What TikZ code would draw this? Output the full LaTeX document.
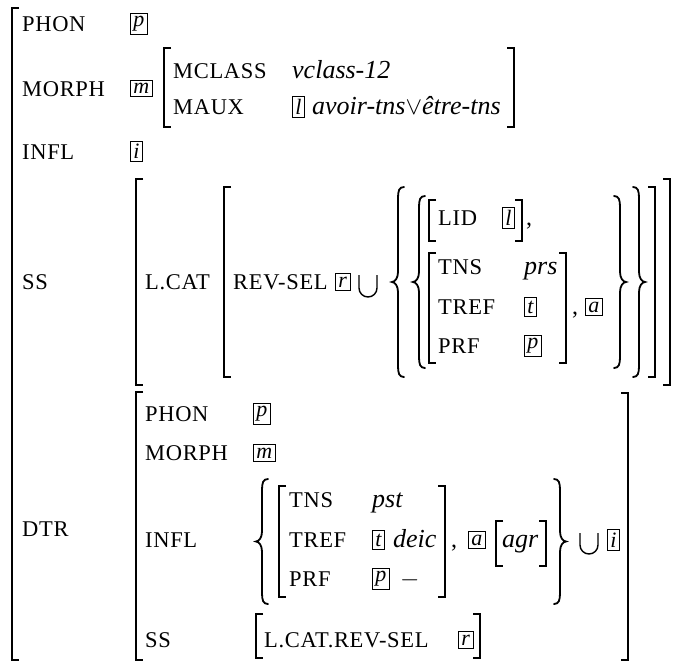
\documentclass[tikz,border=0pt]{standalone}
\usepackage{fontspec}
\setmainfont{Liberation Serif}
\newfontfamily\labfont[LetterSpace=3]{Liberation Serif}
\usepackage{tikz}

% curly braces: x, top, bottom
\newcommand{\openbr}[3]{%
  \pgfmathsetmacro\bmid{(#2+#3)/2}
  \draw[brace] (#1+12,#2) .. controls (#1+7,#2) and (#1+6,#2+4) .. (#1+6,#2+11)
    -- (#1+6,\bmid-10) .. controls (#1+6,\bmid-4) and (#1+3,\bmid) .. (#1,\bmid)
    .. controls (#1+3,\bmid) and (#1+6,\bmid+4) .. (#1+6,\bmid+10)
    -- (#1+6,#3-11) .. controls (#1+6,#3-4) and (#1+7,#3) .. (#1+12,#3);}
\newcommand{\closebr}[3]{%
  \pgfmathsetmacro\bmid{(#2+#3)/2}
  \draw[brace] (#1,#2) .. controls (#1+5,#2) and (#1+6,#2+4) .. (#1+6,#2+11)
    -- (#1+6,\bmid-10) .. controls (#1+6,\bmid-4) and (#1+9,\bmid) .. (#1+12,\bmid)
    .. controls (#1+9,\bmid) and (#1+6,\bmid+4) .. (#1+6,\bmid+10)
    -- (#1+6,#3-11) .. controls (#1+6,#3-4) and (#1+5,#3) .. (#1,#3);}
% set union: x, top, bottom
\newcommand{\unionsym}[3]{%
  \draw[cupline] (#1,#2) -- (#1,#3-9) arc[start angle=180, end angle=0, radius=9] -- (#1+18,#2);}

\begin{document}
\begin{tikzpicture}[
    x=1pt, y=-1pt,
    lab/.style={
        anchor=base west,
        inner sep=0pt,
        font=\labfont\fontsize{22.5}{25}\selectfont
    },
    val/.style={
        anchor=base west,
        inner sep=0pt,
        font=\fontsize{26}{30}\selectfont\itshape
    },
    punct/.style={anchor=base west, inner sep=0pt, font=\fontsize{24}{26}\selectfont},
    tagbox/.style={
        draw,
        line width=0.7pt,
        anchor=west,
        inner sep=3pt,
        font=\fontsize{22}{24}\selectfont\itshape
    },
    brace/.style={line width=1.8pt, line cap=round},
    cupline/.style={line width=1.4pt},
    brk/.style={line width=1.3pt}
]
\useasboundingbox (0,0) rectangle (678,662);

% Outer matrix
\draw[brk] (19,8) -- (12,8) -- (12,660) -- (19,660);

% Top level features
\node[lab] (phon) at (22,31) {PHON};
\node[tagbox] (tagp) at (130,23.5) {p};
\node[lab] (morph) at (22,96) {MORPH};
\node[tagbox] (tagm) at (130,88.5) {m};
\node[lab] (infl) at (22,159) {INFL};
\node[tagbox] (tagi) at (130,151.5) {i};

% Morph value
\draw[brk] (171,48) -- (164,48) -- (164,127) -- (171,127);
\node[lab] (mclass) at (173,78) {MCLASS};
\node[val] (vclass) at (292,78) {vclass-12};
\node[lab] (maux) at (173,114) {MAUX};
\node[tagbox] (tagl) at (292,107) {l};
\node[val] (auxval) at (312,114) {avoir-tns$\vee$être-tns};
\draw[brk] (507,48) -- (514,48) -- (514,127) -- (507,127);

% SS value
\node[lab] (ss) at (22,289) {SS};
\draw[brk] (143,179) -- (136,179) -- (136,385) -- (143,385);
\node[lab] (lcat) at (145,289) {L.CAT};
\draw[brk] (231,187) -- (224,187) -- (224,377) -- (231,377);
\node[lab] (revsel) at (233,289) {REV-SEL};
\node[tagbox] (tagr) at (335,282) {r};
\unionsym{359}{275}{297}
\openbr{392}{187}{377}
\openbr{413}{196}{368}

% LID matrix
\draw[brk] (436,200) -- (429,200) -- (429,241) -- (436,241);
\node[lab] (lid) at (438,225) {LID};
\node[tagbox] (taglid) at (502,218) {l};
\draw[brk] (515,200) -- (522,200) -- (522,241) -- (515,241);
\node[punct] (comma1) at (526,225) {,};

% TNS matrix
\draw[brk] (436,253) -- (429,253) -- (429,363) -- (436,363);
\node[lab] (tns) at (438,274) {TNS};
\node[val] (prs) at (524,274) {prs};
\node[lab] (tref) at (438,314) {TREF};
\node[tagbox] (tagt) at (524,307) {t};
\node[lab] (prf) at (438,353) {PRF};
\node[tagbox] (tagpp) at (524,346) {p};
\draw[brk] (559,253) -- (566,253) -- (566,363) -- (559,363);
\node[punct] (comma2) at (572,314) {,};
\node[tagbox] (taga) at (585,307) {a};

% closing delimiters
\closebr{614}{196}{368}
\closebr{633}{187}{377}
\draw[brk] (648,187) -- (655,187) -- (655,377) -- (648,377);
\draw[brk] (663,179) -- (670,179) -- (670,385) -- (663,385);

% DTR value
\node[lab] (dtr) at (22,536) {DTR};
\draw[brk] (143,392) -- (136,392) -- (136,660) -- (143,660);
\node[lab] (dphon) at (145,421) {PHON};
\node[tagbox] (dtagp) at (253,414) {p};
\node[lab] (dmorph) at (145,460) {MORPH};
\node[tagbox] (dtagm) at (253,453) {m};
\node[lab] (dinfl) at (145,547) {INFL};
\openbr{256}{479}{604}

% DTR INFL set
\draw[brk] (286,486) -- (279,486) -- (279,597) -- (286,597);
\node[lab] (dtns) at (289,507) {TNS};
\node[val] (pst) at (372,507) {pst};
\node[lab] (dtref) at (289,547) {TREF};
\node[tagbox] (dtagt) at (372,540) {t};
\node[val] (deic) at (393,547) {deic};
\node[lab] (dprf) at (289,586) {PRF};
\node[tagbox] (dtagpp) at (372,579) {p};
\node[punct] (minus) at (400,586) {$-$};
\draw[brk] (438,486) -- (445,486) -- (445,597) -- (438,597);
\node[punct] (dcomma) at (451,547) {,};
\node[tagbox] (dtaga) at (468,540) {a};
\draw[brk] (503,521) -- (496,521) -- (496,566) -- (503,566);
\node[val] (agr) at (502,547) {agr};
\draw[brk] (539,521) -- (546,521) -- (546,566) -- (539,566);
\closebr{554}{479}{604}
\unionsym{580}{533}{554}
\node[tagbox] (dtagi) at (607,540) {i};

% DTR SS
\node[lab] (dss) at (145,647) {SS};
\draw[brk] (263,614) -- (256,614) -- (256,658) -- (263,658);
\node[lab] (lcatrev) at (264,647) {L.CAT.REV-SEL};
\node[tagbox] (dtagr) at (458,640) {r};
\draw[brk] (473,614) -- (480,614) -- (480,658) -- (473,658);
\draw[brk] (621,393) -- (628,393) -- (628,660) -- (621,660);

\end{tikzpicture}
\end{document}
